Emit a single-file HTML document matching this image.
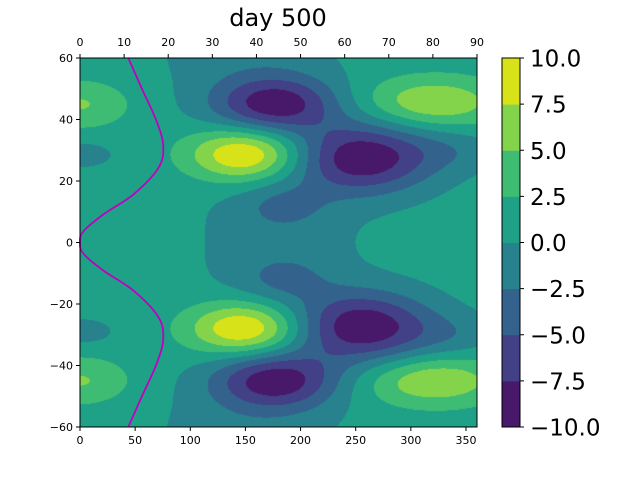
<!DOCTYPE html>
<html><head><meta charset="utf-8"><style>
body{margin:0;background:#fff;}
#wrap{position:relative;width:640px;height:480px;font-family:"DejaVu Sans","Liberation Sans",sans-serif;}
svg text{font-family:"DejaVu Sans","Liberation Sans",sans-serif;}
</style></head><body>
<div id="wrap">
<canvas id="cv" width="397" height="369" style="position:absolute;left:80px;top:58px;"></canvas>
<svg id="sv" width="640" height="480" style="position:absolute;left:0;top:0;"></svg>
</div>
<script>
// Blob features (lon, lat, amplitude, lon-width, lat-width)
const blobLon = [180, 150, 150, 177, 177, 257, 257, 150, 150, 320, 320, 0, 0, 0, 0, 185, 185, 340, 340];
const blobLat = [0, 62, -62, 45, -45, 27.5, -27.5, 28.6, -28, 45.6, -45, 45, -45, 28.6, -29, 12, -12, 30, -30];
const blobAmp = [-2.2, -2, -2, -10, -10, -10.5, -10.5, 9.8, 9.8, 6.3, 6.3, 4.2, 4.2, -2.5, -2.5, -2.5, -2.5, -2, -2];
const blobSLon = [53, 60, 60, 40, 40, 44, 44, 36, 36, 45, 45, 31, 31, 21, 21, 28, 28, 30, 30];
const blobSLat = [18, 10, 10, 6.5, 6.5, 8, 8, 6, 6, 5.8, 5.8, 5.4, 5.4, 3, 3, 5, 5, 5, 5];
const baseValue = 1;
const levels = [-10, -7.5, -5, -2.5, 0, 2.5, 5, 7.5, 10];
const levelColors = ["#48186a", "#424086", "#33638d", "#27828e", "#1fa188", "#3fbc73", "#84d44b", "#d8e219"];
// Magenta curve
const curveLat = [60, 50.2, 39.4, 31.3, 24.2, 15.6, 9.1, 3.6, 0, -3.6, -9.1, -15.6, -24.2, -31.3, -39.4, -50.2, -60];
const curveLon = [43.8, 55.9, 69.5, 75.5, 71, 48.3, 21.1, 3, 0, 3, 21.1, 48.3, 71, 75.5, 69.5, 55.9, 43.8];
const bottomTicks = [0, 50, 100, 150, 200, 250, 300, 350];
const topTicks = [0, 10, 20, 30, 40, 50, 60, 70, 80, 90];
const leftTicks = ["60", "40", "20", "0", "\u221220", "\u221240", "\u221260"];
const leftTickVals = [60, 40, 20, 0, -20, -40, -60];
const cbTicks = ["10.0", "7.5", "5.0", "2.5", "0.0", "\u22122.5", "\u22125.0", "\u22127.5", "\u221210.0"];

const PX = 80, PY = 58, PW = 397, PH = 369;
const xs = lon => PX + lon / 360 * PW;
const xt = v => PX + v / 90 * PW;
const ys = lat => PY + (60 - lat) / 120 * PH;

function field(lon, lat) {
  let v = baseValue;
  for (let i = 0; i < blobAmp.length; i++) {
    const dx = (lon - blobLon[i]) / blobSLon[i], dy = (lat - blobLat[i]) / blobSLat[i];
    v += blobAmp[i] * Math.exp(-0.5 * (dx * dx + dy * dy));
  }
  return v;
}
function hex(c) { return [parseInt(c.substr(1, 2), 16), parseInt(c.substr(3, 2), 16), parseInt(c.substr(5, 2), 16)]; }
const rgb = levelColors.map(hex);
const cv = document.getElementById('cv'), ctx = cv.getContext('2d');
const img = ctx.createImageData(PW, PH);
for (let j = 0; j < PH; j++) {
  const lat = 60 - (j + 0.5) / PH * 120;
  for (let i = 0; i < PW; i++) {
    const lon = (i + 0.5) / PW * 360;
    const v = field(lon, lat);
    let k = 0;
    while (k < levelColors.length - 1 && v >= levels[k + 1]) k++;
    const c = rgb[k], o = (j * PW + i) * 4;
    img.data[o] = c[0]; img.data[o + 1] = c[1]; img.data[o + 2] = c[2]; img.data[o + 3] = 255;
  }
}
ctx.putImageData(img, 0, 0);

const NS = 'http://www.w3.org/2000/svg', sv = document.getElementById('sv');
function mk(tag, attrs, parent) {
  const e = document.createElementNS(NS, tag);
  for (const k in attrs) e.setAttribute(k, attrs[k]);
  (parent || sv).appendChild(e); return e;
}
let pts = curveLat.map((la, i) => [xs(curveLon[i]), ys(la)]);
let d = 'M' + pts[0][0] + ',' + pts[0][1];
for (let i = 0; i < pts.length - 1; i++) {
  const p0 = pts[Math.max(0, i - 1)], p1 = pts[i], p2 = pts[i + 1], p3 = pts[Math.min(pts.length - 1, i + 2)];
  d += ' C' + (p1[0] + (p2[0] - p0[0]) / 6) + ',' + (p1[1] + (p2[1] - p0[1]) / 6) + ' ' + (p2[0] - (p3[0] - p1[0]) / 6) + ',' + (p2[1] - (p3[1] - p1[1]) / 6) + ' ' + p2[0] + ',' + p2[1];
}
const cp = mk('path', { d: d, fill: 'none', stroke: '#c000c0', 'stroke-width': 1.8 });


const fr = mk('rect', { x: PX, y: PY, width: PW, height: PH, fill: 'none', stroke: '#000', 'stroke-width': 1 });


function txt(x, y, s, size, anchor, name) {
  const t = mk('text', { x: x, y: y, 'font-size': size, 'text-anchor': anchor, fill: '#000' });
  t.textContent = s;
  
  
  return t;
}
bottomTicks.forEach(v => { const x = xs(v); mk('line', { x1: x, y1: PY + PH, x2: x, y2: PY + PH + 4, stroke: '#000' }); txt(x, PY + PH + 17, String(v), 11, 'middle', 'x-tick-label'); });
topTicks.forEach(v => { const x = xt(v); mk('line', { x1: x, y1: PY, x2: x, y2: PY - 4, stroke: '#000' }); txt(x, PY - 12, String(v), 11, 'middle', 'top-x-tick-label'); });
leftTickVals.forEach((v, i) => { const y = ys(v); mk('line', { x1: PX, y1: y, x2: PX - 4, y2: y, stroke: '#000' }); txt(PX - 7, y + 4, leftTicks[i], 11, 'end', 'y-tick-label'); });
txt(278, 26, 'day 500', 24, 'middle', 'chart-title');
const CX = 502, CW = 18, CY = 58, CH = 369, n = levelColors.length;
levelColors.forEach((c, i) => {
  const r = mk('rect', { x: CX, y: CY + CH - (i + 1) * CH / n, width: CW, height: CH / n + 0.5, fill: c });
  
  
});
const cbf = mk('rect', { x: CX, y: CY, width: CW, height: CH, fill: 'none', stroke: '#000' });


cbTicks.forEach((s, i) => { const y = CY + i * CH / (cbTicks.length - 1); mk('line', { x1: CX + CW, y1: y, x2: CX + CW + 4, y2: y, stroke: '#000' }); txt(CX + CW + 10, y + 8.5, s, 23, 'start', 'colorbar-tick-label'); });
</script>
</body></html>
